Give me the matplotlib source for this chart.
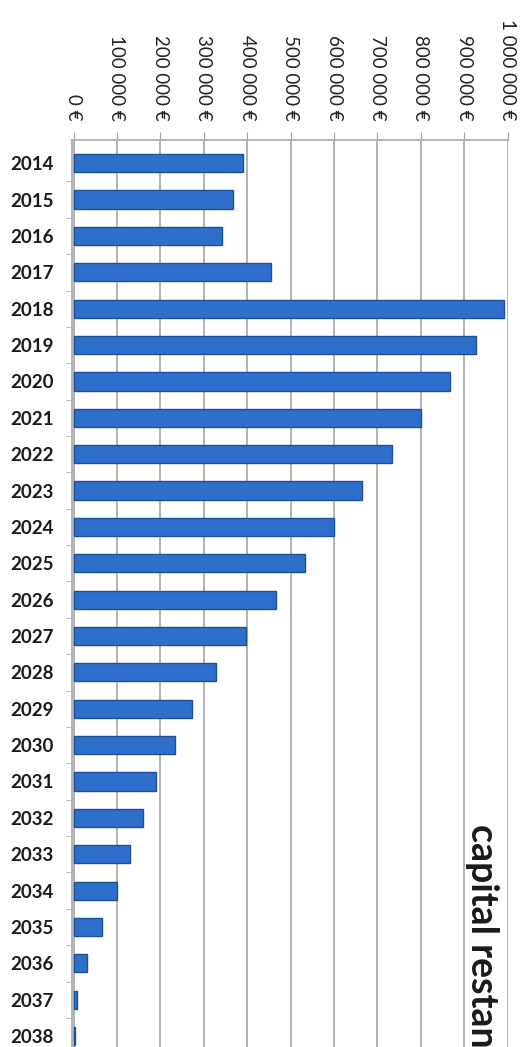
import numpy as np
import matplotlib.pyplot as plt

# capital restant dû par année
years = [str(y) for y in range(2014, 2039)]
capital = [391000, 367000, 342000, 454000, 992000, 928000, 868000, 801000,
           733000, 664000, 599000, 533000, 466000, 397000, 328000, 273000,
           234000, 191000, 161000, 129000, 100000, 66000, 32000, 8000, 3000]
tick_values = [0, 100000, 200000, 300000, 400000, 500000,
               600000, 700000, 800000, 900000, 1000000]
tick_labels = ["0 €", "100 000 €", "200 000 €", "300 000 €", "400 000 €",
               "500 000 €", "600 000 €", "700 000 €", "800 000 €",
               "900 000 €", "1 000 000 €"]

plt.rcParams['font.family'] = ['Lato', 'DejaVu Sans']

fig = plt.figure(figsize=(5.24, 10.47), dpi=100)
ax = fig.add_axes([0.137, 0.0, 0.832, 0.866])

pos = np.arange(len(years))
ax.barh(pos, capital, height=0.5, color='#2e6fcb', edgecolor='#1d4f9c',
        linewidth=1.0, zorder=3)

ax.set_xlim(-4000, 1000000)
ax.set_ylim(24.3, -0.63)

ax.xaxis.tick_top()
ax.set_xticks(tick_values)
ax.set_xticklabels(tick_labels, rotation=-90, fontsize=13.5, color='#222222')
ax.tick_params(axis='x', length=6, color='#a0a0a0', pad=8)
ax.grid(axis='x', color='#adadad', linewidth=1.3, zorder=0)

ax.set_yticks(pos)
ax.set_yticklabels(years, fontsize=13.5, fontweight='bold', color='#1a1a1a')
ax.set_yticks(pos[:-1] + 0.5, minor=True)
ax.tick_params(axis='y', which='major', length=0, pad=13)
ax.tick_params(axis='y', which='minor', length=4, color='#b0b0b0')

for side in ['right', 'bottom']:
    ax.spines[side].set_visible(False)
ax.spines['top'].set_color('#adadad')
ax.spines['left'].set_color('#adadad')
ax.spines['top'].set_linewidth(1.3)
ax.spines['left'].set_linewidth(1.3)

# titre vertical, coupé par le bord bas de la figure
fig.text(0.92, 0.213, "capital restant", rotation=-90, fontsize=27,
         fontweight='bold', color='#1a1a1a', ha='center', va='top')

fig.savefig('out.png', dpi=100)
